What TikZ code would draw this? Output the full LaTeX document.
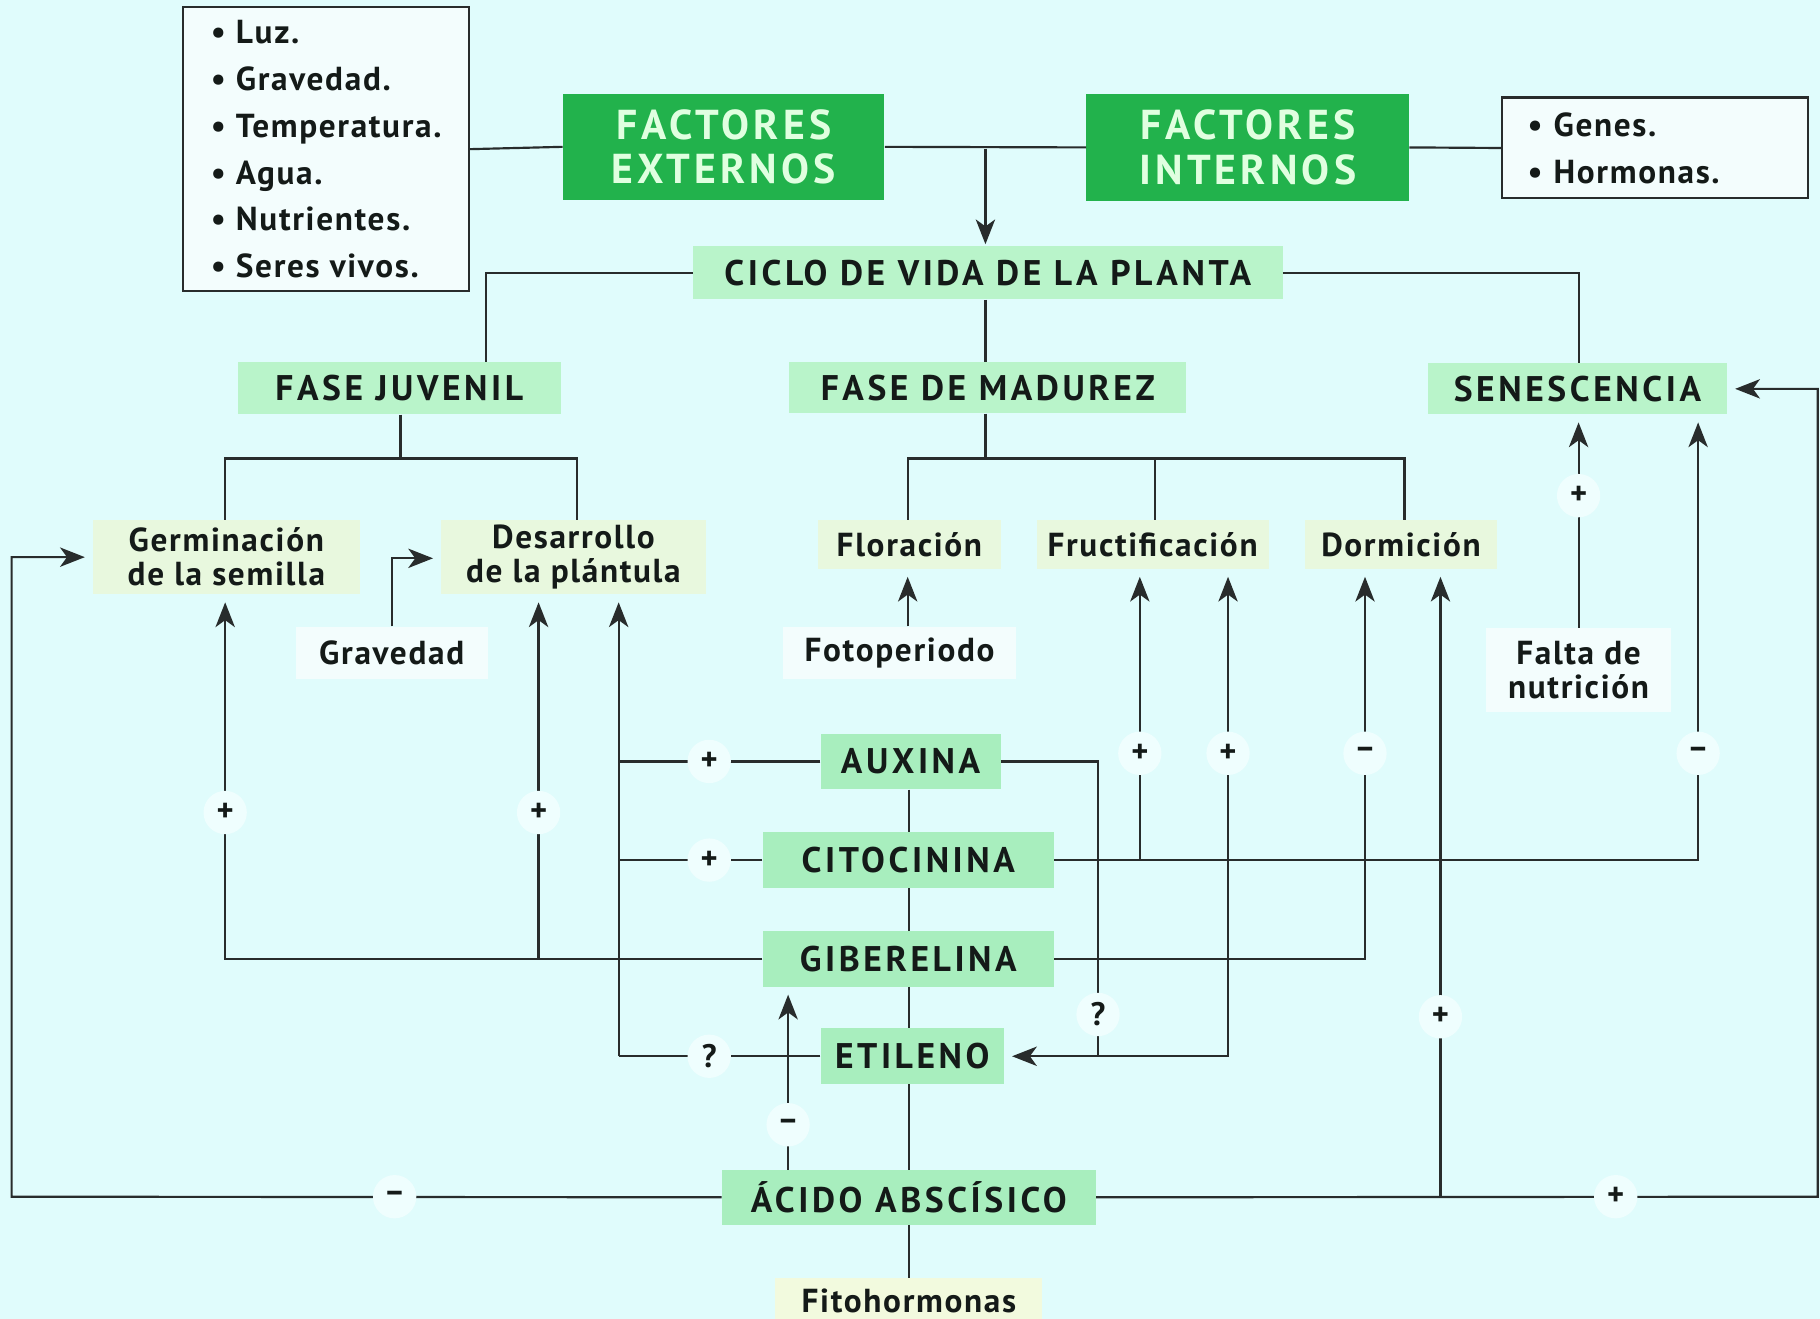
\documentclass[tikz,border=0pt]{standalone}
\usepackage{fontspec}
\setmainfont{PT Sans}
\newfontfamily\capsf[LetterSpace=10]{PT Sans}
\newfontfamily\txtf[LetterSpace=5]{PT Sans}
\usetikzlibrary{arrows.meta}
\definecolor{bgc}{RGB}{224,252,252}
\definecolor{dkg}{RGB}{34,178,76}
\definecolor{mint}{RGB}{168,238,190}
\definecolor{mintc}{RGB}{185,244,202}
\definecolor{pale}{RGB}{232,248,222}
\definecolor{paley}{RGB}{242,250,222}
\definecolor{whitish}{RGB}{243,253,253}
\definecolor{ln}{RGB}{40,44,44}
\definecolor{tx}{RGB}{20,26,24}
\begin{document}
\begin{tikzpicture}[x=0.75pt,y=-0.75pt,
  sz/.style 2 args={minimum width=#1*0.75pt,minimum height=#2*0.75pt,inner sep=0pt},
  bigbox/.style={fill=dkg,text=white!88!green,font=\capsf\bfseries\fontsize{27}{29}\selectfont,align=center},
  capbox/.style={fill=mintc,text=tx,font=\capsf\bfseries\fontsize{23}{26}\selectfont},
  hormbox/.style={fill=mint,text=tx,font=\capsf\bfseries\fontsize{23}{26}\selectfont},
  subbox/.style={fill=pale,text=tx,font=\txtf\bfseries\fontsize{21.5}{22}\selectfont,align=center},
  extbox/.style={fill=whitish,text=tx,font=\txtf\bfseries\fontsize{21.5}{22}\selectfont,align=center},
  lstbox/.style={draw=ln,line width=1.3pt,fill=whitish,text=tx,font=\txtf\bfseries\fontsize{21.5}{30.3}\selectfont,align=left},
  signbox/.style={circle,fill=white!50!bgc,inner sep=0pt,minimum size=28pt,text=tx,font=\bfseries\fontsize{21}{21}\selectfont},
  conline/.style={draw=ln,line width=1.4pt},
  arrline/.style={conline,-{Stealth[length=16pt,width=12.5pt,inset=4.5pt]},shorten >=5pt},
]
\fill[bgc] (0,0) rectangle (1568,1136);
\useasboundingbox (0,0) rectangle (1568,1136);

% top
\node[lstbox,sz={246}{245}] (ext) at (281,128.5)
  {\textbullet\ Luz.\\ \textbullet\ Gravedad.\\ \textbullet\ Temperatura.\\ \textbullet\ Agua.\\ \textbullet\ Nutrientes.\\ \textbullet\ Seres vivos.};
\node[bigbox,sz={277}{91}] (fe) at (623.5,126.5) {FACTORES\\EXTERNOS};
\node[bigbox,sz={278}{92}] (fi) at (1075,127) {FACTORES\\INTERNOS};
\node[lstbox,sz={264}{87},text width=165pt] (int) at (1426,127.5)
  {\textbullet\ Genes.\\ \textbullet\ Hormonas.};

\node[capbox,sz={508}{46}] (ciclo) at (851,235) {CICLO DE VIDA DE LA PLANTA};
\node[capbox,sz={278}{45}] (juv) at (344,334.5) {FASE JUVENIL};
\node[capbox,sz={342}{44}] (mad) at (851,334) {FASE DE MADUREZ};
\node[capbox,sz={258}{44}] (sen) at (1359,335) {SENESCENCIA};

\node[subbox,sz={230}{64}] (germ) at (195,480) {Germinación\\de la semilla};
\node[subbox,sz={228}{64}] (desa) at (494,480) {Desarrollo\\de la plántula};
\node[subbox,sz={157}{42}] (flor) at (783.5,469) {Floración};
\node[subbox,sz={200}{42}] (fruc) at (993,469) {Fructificación};
\node[subbox,sz={166}{42}] (dorm) at (1207,469) {Dormición};

\node[extbox,sz={165}{45}] (grav) at (337.5,562.5) {Gravedad};
\node[extbox,sz={200}{45}] (foto) at (775,562.5) {Fotoperiodo};
\node[extbox,sz={160}{72}] (falta) at (1360,577) {Falta de\\nutrición};

\node[hormbox,sz={155}{48}] (aux) at (784.5,656) {AUXINA};
\node[hormbox,sz={251}{48}] (cito) at (782.5,741) {CITOCININA};
\node[hormbox,sz={251}{48}] (gibe) at (782.5,826) {GIBERELINA};
\node[hormbox,sz={158}{48}] (etil) at (786,910) {ETILENO};
\node[hormbox,sz={322}{47}] (aba) at (783,1031.5) {ÁCIDO ABSCÍSICO};
\node[subbox,fill=paley,sz={230}{40}] (fito) at (783,1121) {Fitohormonas};

% junction coordinates
\coordinate (j1) at (849,128);
\coordinate (cj) at (419,235);
\coordinate (cs) at (1360,235);
\coordinate (jv) at (345,395);
\coordinate (jg) at (194,395);
\coordinate (jd) at (497,395);
\coordinate (mv) at (849,395);
\coordinate (mf) at (782,395);
\coordinate (mr) at (995,395);
\coordinate (md) at (1210,395);
\coordinate (gv) at (338,481);
\coordinate (lb) at (10,1031);
\coordinate (lt) at (10,480);
\coordinate (da) at (533,656);
\coordinate (dc) at (533,741);
\coordinate (de) at (533,910);
\coordinate (gg) at (194,826);
\coordinate (gd) at (464,826);
\coordinate (gr) at (1176,826);
\coordinate (cr) at (1463,741);
\coordinate (cf) at (982,741);
\coordinate (ar) at (946,656);
\coordinate (ae) at (946,910);
\coordinate (ef) at (1058,910);
\coordinate (ab) at (679,1031);
\coordinate (rb) at (1566,1031);
\coordinate (rt) at (1566,335);
\coordinate (rd) at (1241,1031);

% top connectors
\draw[conline] (ext.east) -- (fe.west);
\draw[conline] (fe.east) -- (fi.west);
\draw[conline] (fi.east) -- (int.west);
\draw[arrline,shorten >=1pt] (j1) -- (j1 |- ciclo.north);
\draw[conline] (ciclo.west) -- (cj) -- (cj |- juv.north);
\draw[conline] (ciclo.east) -- (cs) -- (cs |- sen.north);
\draw[conline] (ciclo.south -| j1) -- (j1 |- mad.north);
% phases
\draw[conline] (juv.south -| jv) -- (jv);
\draw[conline] (jg |- germ.north) -- (jg) -- (jd) -- (jd |- desa.north);
\draw[conline] (mad.south -| mv) -- (mv);
\draw[conline] (mf |- flor.north) -- (mf) -- (md) -- (md |- dorm.north);
\draw[conline] (mr) -- (mr |- fruc.north);
% external stimuli
\draw[arrline] (grav.north -| gv) -- (gv) -- (desa.west |- gv);
\draw[arrline] (foto.north -| mf) -- (mf |- flor.south);
\draw[arrline] (falta.north -| cs) -- (cs |- sen.south);
% hormones spine
\draw[conline] (aux.south -| aba.north) -- (aba.north |- cito.north);
\draw[conline] (cito.south -| aba.north) -- (aba.north |- gibe.north);
\draw[conline] (gibe.south -| aba.north) -- (aba.north |- etil.north);
\draw[conline] (etil.south -| aba.north) -- (aba.north);
\draw[conline] (aba.south) -- (fito.north);
% ABA left loop
\draw[arrline] (aba.west) -- (lb) -- (lt) -- (germ.west |- lt);
% to Desarrollo
\draw[conline] (aux.west) -- (da);
\draw[conline] (cito.west) -- (dc);
\draw[conline] (etil.west) -- (de);
\draw[arrline] (de) -- (de |- desa.south);
% giberelina
\draw[arrline] (gibe.west) -- (gg) -- (gg |- germ.south);
\draw[arrline] (gd) -- (gd |- desa.south);
\draw[arrline] (gibe.east) -- (gr) -- (gr |- dorm.south);
% citocinina
\draw[arrline] (cito.east) -- (cr) -- (cr |- sen.south);
\draw[arrline] (cf) -- (cf |- fruc.south);
% auxina -> etileno
\draw[arrline] (aux.east) -- (ar) -- (ae) -- (etil.east |- ae);
\draw[arrline] (ae) -- (ef) -- (ef |- fruc.south);
% ABA
\draw[arrline] (ab |- aba.north) -- (ab |- gibe.south);
\draw[arrline] (aba.east) -- (rb) -- (rt) -- (sen.east |- rt);
\draw[arrline] (rd) -- (rd |- dorm.south);

% signs
\node[signbox] (s1) at (1360,427) {+};
\node[signbox] (s2) at (340,1031) {–};
\node[signbox] (s3) at (611,656) {+};
\node[signbox] (s4) at (611,741) {+};
\node[signbox] (s5) at (611,910) {?};
\node[signbox] (s6) at (194,700) {+};
\node[signbox] (s7) at (464,700) {+};
\node[signbox] (s8) at (1176,649) {–};
\node[signbox] (s9) at (1463,649) {–};
\node[signbox] (s10) at (982,649) {+};
\node[signbox] (s11) at (1058,649) {+};
\node[signbox] (s12) at (946,874) {?};
\node[signbox] (s13) at (679,969) {–};
\node[signbox] (s14) at (1392,1031) {+};
\node[signbox] (s15) at (1241,876) {+};
\end{tikzpicture}
\end{document}
